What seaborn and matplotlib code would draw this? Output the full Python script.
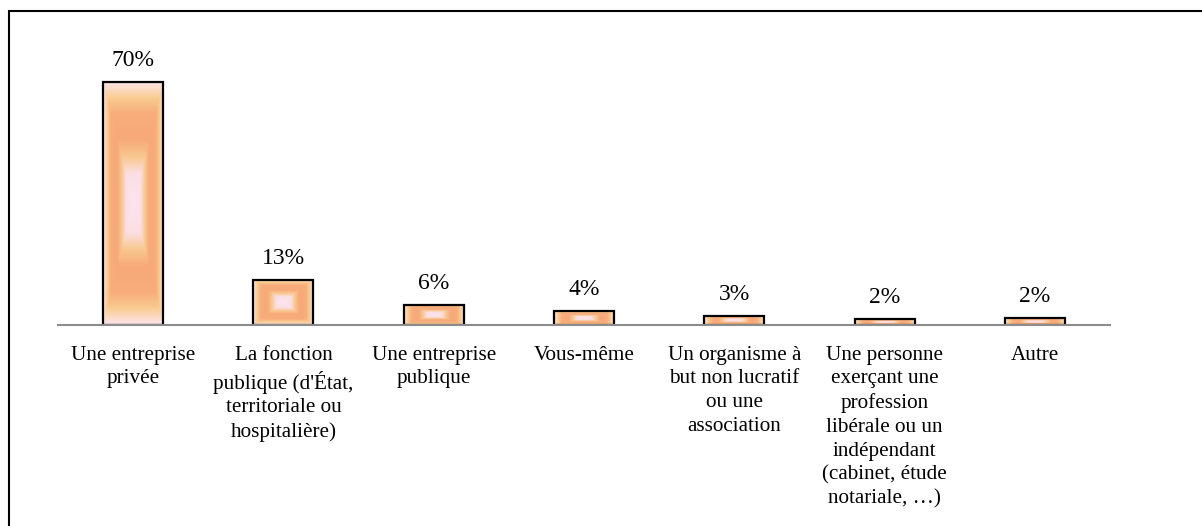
import numpy as np
import pandas as pd
import matplotlib
matplotlib.use("Agg")
import matplotlib.pyplot as plt
from matplotlib.colors import LinearSegmentedColormap
from matplotlib.patches import Rectangle
import seaborn as sns

categories = [
    "Une entreprise\nprivée",
    "La fonction\npublique (d'État,\nterritoriale ou\nhospitalière)",
    "Une entreprise\npublique",
    "Vous-même",
    "Un organisme à\nbut non lucratif\nou une\nassociation",
    "Une personne\nexerçant une\nprofession\nlibérale ou un\nindépendant\n(cabinet, étude\nnotariale, …)",
    "Autre",
]
values = [70.0, 13.0, 5.8, 4.0, 2.7, 1.6, 1.9]
labels = ["70%", "13%", "6%", "4%", "3%", "2%", "2%"]

df = pd.DataFrame({"cat": categories, "val": values})

sns.set_theme(style="white")
plt.rcParams["font.family"] = ["Liberation Serif", "DejaVu Serif"]

fig = plt.figure(figsize=(12.02, 5.26), dpi=100)
ax = fig.add_axes([58 / 1202, 1 - 325 / 526, (1110 - 58) / 1202, (325 - 47) / 526])

sns.barplot(data=df, x="cat", y="val", order=categories, color="#f5b07a",
            width=0.4, edgecolor="black", linewidth=1.6, ax=ax)

# rectangular "from centre" gradient, like the Office preset
grad_cmap = LinearSegmentedColormap.from_list("sunset", [
    (0.00, "#fde4f0"),
    (0.24, "#fbdfe4"),
    (0.38, "#f9c890"),
    (0.52, "#f7a979"),
    (0.74, "#f8ad7b"),
    (0.87, "#f9cd92"),
    (1.00, "#fde4ec"),
])
n = 200
u = np.linspace(-1, 1, n)
uu, vv = np.meshgrid(u, u)
grad = np.maximum(np.abs(uu), np.abs(vv))

for p in ax.patches:
    x, y = p.get_x(), p.get_y()
    w, h = p.get_width(), p.get_height()
    im = ax.imshow(grad, cmap=grad_cmap, vmin=0, vmax=1, aspect="auto",
                   extent=[x, x + w, y, y + h], zorder=p.get_zorder() - 0.1,
                   interpolation="bilinear")
    im.set_clip_path(p)
    p.set_facecolor("none")

ax.bar_label(ax.containers[0], labels=labels, padding=8, fontsize=17, color="black")

ax.set_xlim(-0.5, 6.5)
ax.set_ylim(0, 80)
ax.set_xlabel("")
ax.set_ylabel("")
ax.set_yticks([])
ax.set_xticks(range(len(categories)))
ax.set_xticklabels(categories, fontsize=15.2, linespacing=1.33)
ax.tick_params(axis="x", length=0, pad=15, colors="black")
for s in ["top", "right", "left"]:
    ax.spines[s].set_visible(False)
ax.spines["bottom"].set_color("#8c8c8c")
ax.spines["bottom"].set_linewidth(1.5)
ax.set_facecolor("none")

# outer frame of the chart area
fig.patches.append(Rectangle((8.5 / 1202, -0.05), 1.2, 1 - 11 / 526 + 0.05,
                             transform=fig.transFigure, fill=False,
                             edgecolor="black", linewidth=1.5))

fig.savefig("out.png", dpi=100)
